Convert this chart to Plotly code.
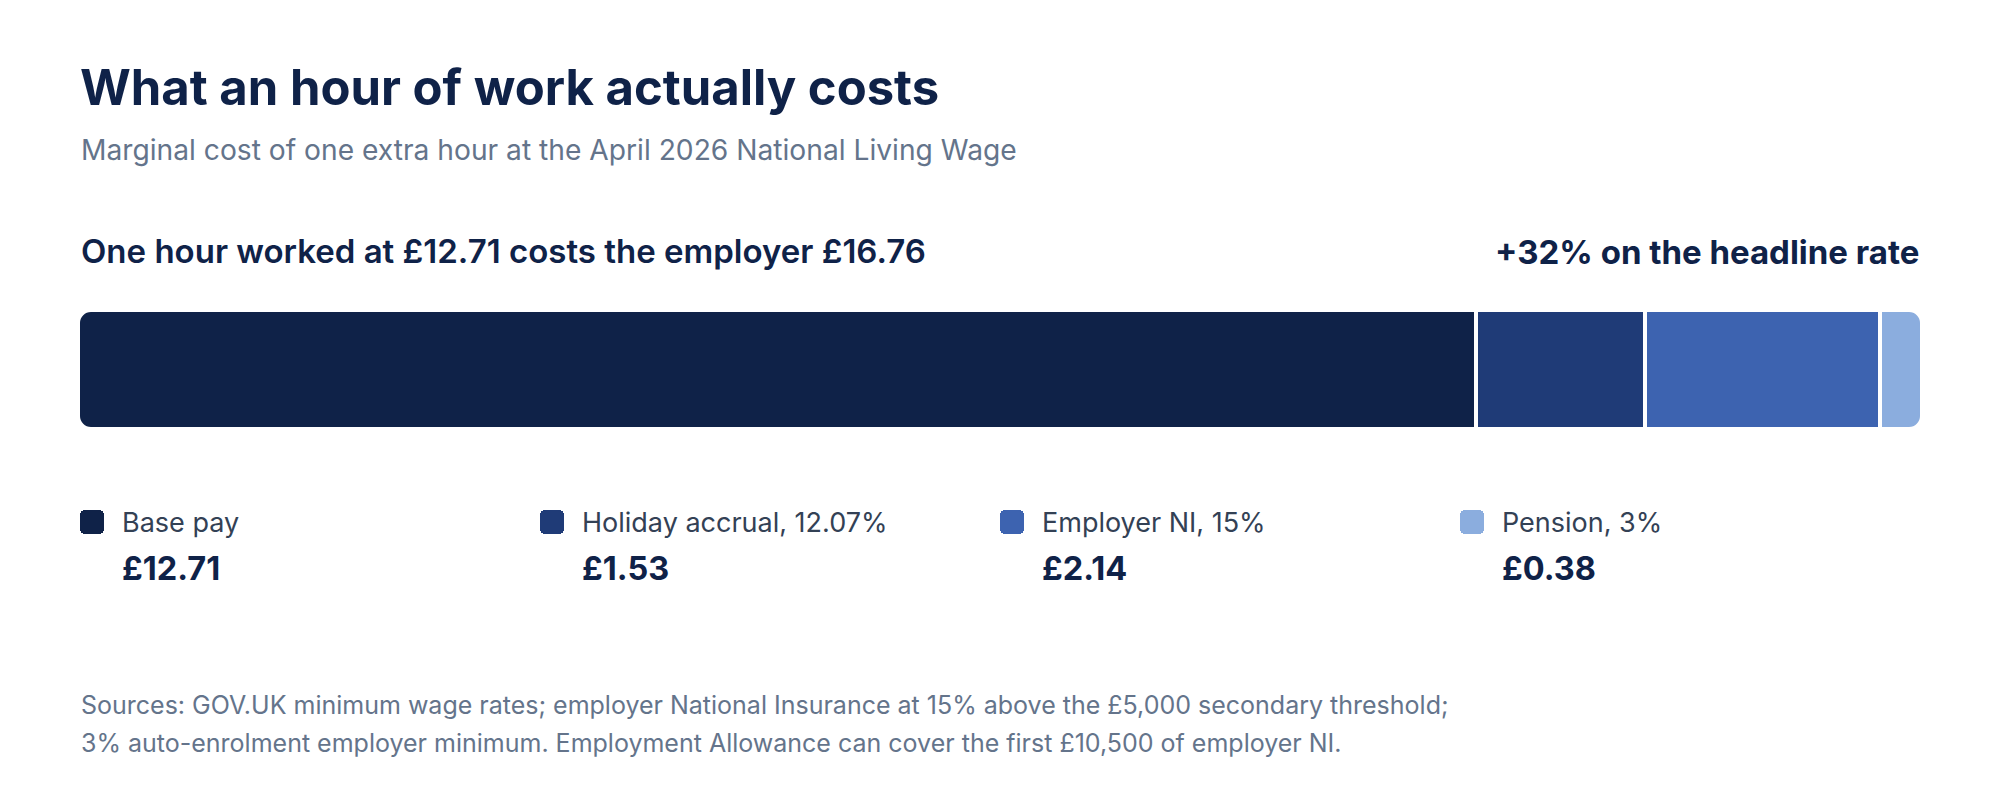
import plotly.graph_objects as go

# ---- data ----
components = ["Base pay", "Holiday accrual, 12.07%", "Employer NI, 15%", "Pension, 3%"]
values = [12.71, 1.53, 2.14, 0.38]
value_labels = ["£12.71", "£1.53", "£2.14", "£0.38"]
colors = ["#0f2248", "#1f3b77", "#3d63b0", "#8badde"]
headline_rate = 12.71
total_cost = 16.76
uplift_pct = 32

title = "What an hour of work actually costs"
subtitle = "Marginal cost of one extra hour at the April 2026 National Living Wage"
sources = [
    "Sources: GOV.UK minimum wage rates; employer National Insurance at 15% above the £5,000 secondary threshold;",
    "3% auto-enrolment employer minimum. Employment Allowance can cover the first £10,500 of employer NI.",
]

# ---- layout constants (pixels in the screenshot) ----
W, H = 2000, 800
OFF = 8  # page body margin
FONT = "Inter, 'Liberation Sans', Arial, sans-serif"
NAVY = "#0f2248"
GREY = "#64748b"
SLATE = "#334155"
LEFT, RIGHT = 80, 1920
BAR_TOP, BAR_BOT = 312, 427
GAP = 4          # white separator between segments
RAD = 13
SW_RAD = 5
COL_W = 460
SW = 24
SW_Y0, SW_Y1 = 510, 534

def px(x):
    return (x - OFF) / W

def py(y):
    return 1 - (y - OFF) / H

fig = go.Figure()
n = len(values)
first = values[0]

# base pay: on a reversed twin axis whose zero sits at the end of the segment,
# so the rounded "top" of the bar is the left edge of the whole bar
fig.add_trace(go.Bar(
    y=[0], x=[first], orientation="h",
    marker=dict(color=colors[0], cornerradius=RAD, line=dict(color="white", width=GAP)),
    name=components[0], hoverinfo="skip", showlegend=False,
    xaxis="x3", yaxis="y",
))
# remaining add-ons stacked from the end of base pay; top of stack is rounded
for i in range(1, n):
    fig.add_trace(go.Bar(
        y=[0], x=[values[i]], orientation="h",
        marker=dict(color=colors[i], cornerradius=RAD, line=dict(color="white", width=GAP)),
        name=components[i], hoverinfo="skip", showlegend=False,
        xaxis="x", yaxis="y",
    ))

# legend swatches: an upward and a downward half, rounded at their outer ends
for sign in (1, -1):
    fig.add_trace(go.Bar(
        x=list(range(n)), y=[sign] * n,
        width=[SW / COL_W] * n,
        marker=dict(color=colors, cornerradius=SW_RAD, line=dict(width=0)),
        hoverinfo="skip", showlegend=False, xaxis="x2", yaxis="y2",
    ))

h = GAP / 2
bar_dom = [px(LEFT - h), px(RIGHT + h)]
fig.update_layout(
    width=W, height=H,
    margin=dict(l=0, r=0, t=0, b=0),
    paper_bgcolor="white", plot_bgcolor="rgba(0,0,0,0)",
    barmode="relative", bargap=0,
    font=dict(family=FONT, color=NAVY),
    xaxis=dict(domain=bar_dom, range=[-first, total_cost - first], anchor="y",
               visible=False, fixedrange=True),
    xaxis3=dict(domain=bar_dom, range=[first, first - total_cost], anchor="y",
                visible=False, fixedrange=True),
    yaxis=dict(domain=[py(BAR_BOT + h), py(BAR_TOP - h)], range=[-0.5, 0.5],
               visible=False, fixedrange=True),
    xaxis2=dict(domain=[px(LEFT), px(RIGHT)], anchor="y2",
                range=[-(SW / 2) / COL_W, n - (SW / 2) / COL_W],
                visible=False, fixedrange=True),
    yaxis2=dict(domain=[py(SW_Y1), py(SW_Y0)], range=[-1, 1], anchor="x2",
                visible=False, fixedrange=True),
)

ann = []
def text(x, y, s, size, color=NAVY, weight=400, xanchor="left"):
    ann.append(dict(xref="paper", yref="paper", x=px(x), y=py(y), text=s,
                    showarrow=False, xanchor=xanchor, yanchor="middle",
                    font=dict(family=FONT, size=size, color=color, weight=weight)))

text(LEFT - 2, 87, title, 49, NAVY, 700)
text(LEFT - 1, 150, subtitle, 28.2, GREY, 400)
text(LEFT - 1, 251,
     f"One hour worked at £{headline_rate:.2f} costs the employer £{total_cost:.2f}",
     33, NAVY, 600)
text(RIGHT + 1, 252, f"+{uplift_pct}% on the headline rate", 33, NAVY, 700, "right")

for i in range(n):
    x0 = LEFT + COL_W * i + 40
    text(x0, 522, components[i], 27, SLATE, 400)
    text(x0, 568, value_labels[i], 32.5, NAVY, 700)

text(LEFT - 1, 705, sources[0], 25, GREY, 400)
text(LEFT - 1, 743, sources[1], 25, GREY, 400)

fig.update_layout(annotations=ann)
fig.write_html("out.html")
